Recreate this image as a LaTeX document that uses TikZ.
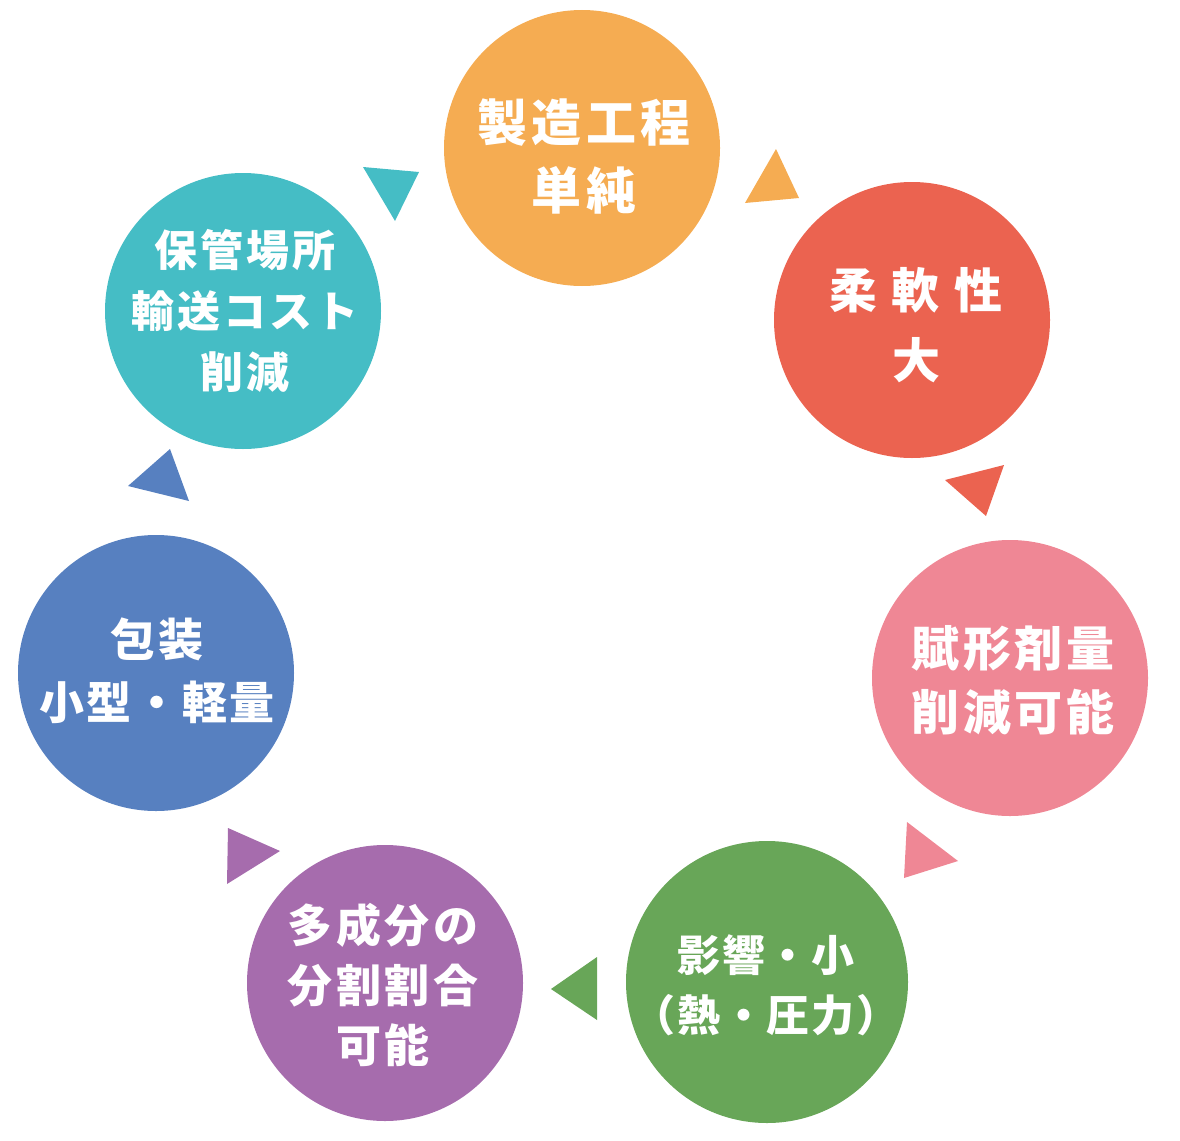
\documentclass[tikz,border=0pt]{standalone}
\usepackage{fontspec}
\setmainfont{Noto Sans CJK JP}
\usepackage{tikz}

\definecolor{cOrange}{HTML}{F5AC52}
\definecolor{cRed}{HTML}{EB6350}
\definecolor{cPink}{HTML}{EF8795}
\definecolor{cGreen}{HTML}{68A658}
\definecolor{cPurple}{HTML}{A66CAD}
\definecolor{cBlue}{HTML}{5780C0}
\definecolor{cTeal}{HTML}{45BDC5}

\begin{document}
\begin{tikzpicture}[x=1pt, y=-1pt,
    bubble/.style={circle, minimum size=276pt, inner sep=0pt},
    caption/.style n args={3}{text=white, align=center, inner sep=0pt,
        font=\bfseries\fontsize{#1}{#2}\selectfont\addfontfeature{LetterSpace=#3}}]
    \useasboundingbox (0,0) rectangle (1180,1140);

    % Circles
    \node[bubble, fill=cOrange] (koutei) at (582,148) {};
    \node[bubble, fill=cRed] (juunan) at (912,320) {};
    \node[bubble, fill=cPink] (fukei) at (1010,678) {};
    \node[bubble, fill=cGreen, minimum size=282pt] (eikyou) at (767,982) {};
    \node[bubble, fill=cPurple] (tasei) at (385,983) {};
    \node[bubble, fill=cBlue] (housou) at (156,673) {};
    \node[bubble, fill=cTeal] (hokan) at (243,311) {};

    % Labels
    \node[caption={50}{68}{9}] (kouteiT) at ([xshift=2pt,yshift=-8pt]koutei.center) {製造工程\\単純};
    \node[caption={48}{70}{30}] (juunanT) at ([xshift=4pt,yshift=-5pt]juunan.center) {柔軟性\\大};
    \node[caption={48}{64}{8}] (fukeiT) at ([xshift=3pt,yshift=-2pt]fukei.center) {賦形剤量\\削減可能};
    \node[caption={43}{60}{4}] (eikyouT) at ([xshift=-1pt,yshift=-3pt]eikyou.center) {影響・小\\（熱・圧力）};
    \node[caption={45}{60}{8}] (taseiT) at ([xshift=-2pt,yshift=-2pt]tasei.center) {多成分の\\分割割合\\可能};
    \node[caption={45}{63}{6}] (housouT) at ([xshift=1pt,yshift=2pt]housou.center) {包装\\小型・軽量};
    \node[caption={43}{61}{7}] (hokanT) at ([xshift=2pt]hokan.center) {保管場所\\輸送コスト\\削減};

    % Triangles
    \fill[cTeal] (363,167) -- (419,172) -- (395,221) -- cycle;
    \fill[cOrange] (776,149) -- (799,198) -- (745,203) -- cycle;
    \fill[cRed] (945,480) -- (1004,465) -- (986,516) -- cycle;
    \fill[cPink] (907,822) -- (958,861) -- (904,878) -- cycle;
    \fill[cGreen] (597,957) -- (551,989) -- (597,1020) -- cycle;
    \fill[cPurple] (228,828) -- (280,851) -- (227,884) -- cycle;
    \fill[cBlue] (170,449) -- (189,501) -- (128,486) -- cycle;
\end{tikzpicture}
\end{document}
